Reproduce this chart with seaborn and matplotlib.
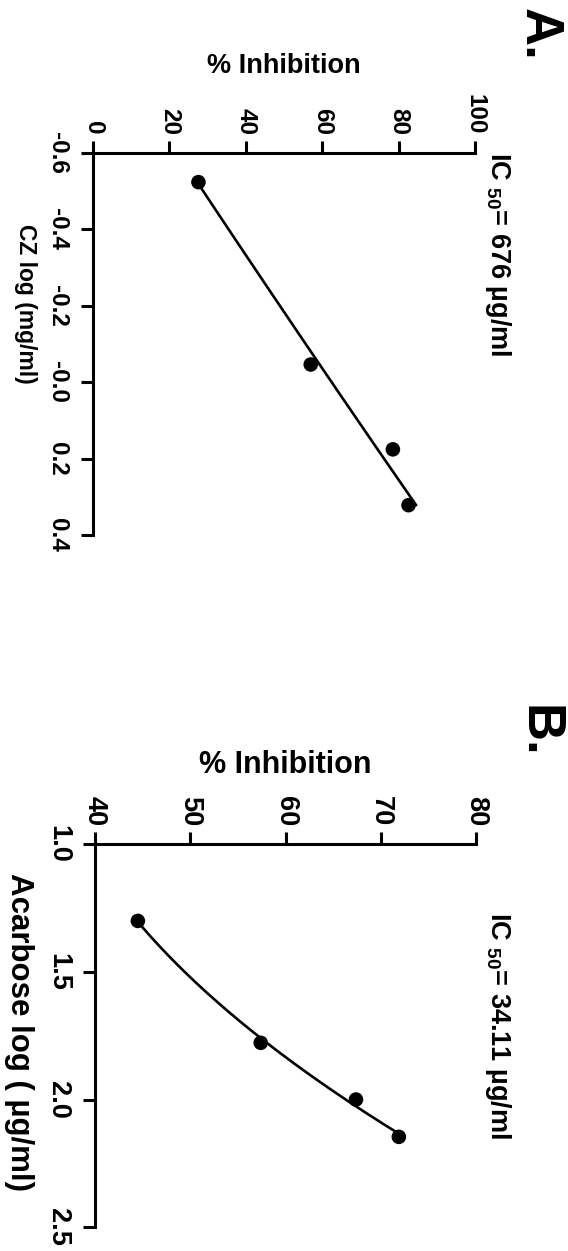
import numpy as np
import pandas as pd
import matplotlib
matplotlib.use("Agg")
import matplotlib.pyplot as plt
import seaborn as sns

# ---- Panel A: CZ extract -------------------------------------------------
cz_log_conc = [-0.523, -0.046, 0.176, 0.322]
cz_inhibition = [27.6, 57.0, 78.5, 82.6]
cz_conc_ticks = [-0.6, -0.4, -0.2, 0.0, 0.2, 0.4]
cz_conc_tick_labels = ["-0.6", "-0.4", "-0.2", "-0.0", "0.2", "0.4"]
cz_inh_ticks = [0, 20, 40, 60, 80, 100]

# ---- Panel B: acarbose ---------------------------------------------------
acarbose_log_conc = [1.301, 1.778, 2.000, 2.146]
acarbose_inhibition = [44.5, 57.4, 67.4, 71.9]
acarbose_conc_ticks = [1.0, 1.5, 2.0, 2.5]
acarbose_conc_tick_labels = ["1.0", "1.5", "2.0", "2.5"]
acarbose_inh_ticks = [40, 50, 60, 70, 80]

panel_letters = ["A.", "B."]
ic50_labels = [r"IC $_{50}$= 676 µg/ml", r"IC $_{50}$= 34.11 µg/ml"]
conc_labels = ["CZ log (mg/ml)", "Acarbose log ( µg/ml)"]
inh_label = "% Inhibition"

sns.set_style("ticks")
plt.rcParams["font.family"] = ["Liberation Sans", "DejaVu Sans"]
plt.rcParams["font.weight"] = "bold"
plt.rcParams["mathtext.fontset"] = "custom"
plt.rcParams["mathtext.rm"] = "Liberation Sans:bold"
plt.rcParams["mathtext.it"] = "Liberation Sans:bold"
plt.rcParams["mathtext.bf"] = "Liberation Sans:bold"
plt.rcParams["mathtext.default"] = "rm"
for key in ("text.color", "axes.labelcolor", "xtick.color", "ytick.color", "axes.edgecolor"):
    plt.rcParams[key] = "black"

W, H = 568, 1251
fig = plt.figure(figsize=(W / 100, H / 100), dpi=100)
fig.patch.set_facecolor("white")


def fx(px):
    return px / W


def fy(py):
    return 1 - py / H


def draw_panel(box, log_conc, inhibition, inh_ticks, conc_ticks, conc_tick_labels,
               tick_size, inh_label_size, inh_label_y, conc_label,
               conc_label_size, conc_label_xy, letter, letter_y, ic50, ic50_y):
    left, top, right, bottom = box
    ax = fig.add_axes([fx(left), fy(bottom), fx(right) - fx(left), fy(top) - fy(bottom)])

    df = pd.DataFrame({"log_conc": log_conc, "inhibition": inhibition})
    # second-order regression of inhibition on log concentration
    coef = np.polyfit(df["log_conc"], df["inhibition"], 2)
    grid = np.linspace(df["log_conc"].min(), df["log_conc"].max(), 200)
    fit = pd.DataFrame({"log_conc": grid, "inhibition": np.polyval(coef, grid)})

    sns.lineplot(data=fit, x="inhibition", y="log_conc", orient="y", estimator=None,
                 color="black", linewidth=1.9, ax=ax)
    sns.scatterplot(data=df, x="inhibition", y="log_conc", color="black", s=110,
                    edgecolor="none", ax=ax, zorder=3)

    ax.set_xlim(inh_ticks[0], inh_ticks[-1])
    ax.set_ylim(conc_ticks[-1], conc_ticks[0])

    ax.xaxis.tick_top()
    ax.set_xticks(inh_ticks)
    ax.set_xticklabels([str(t) for t in inh_ticks], rotation=270,
                       fontsize=tick_size, fontweight="bold")
    ax.set_yticks(conc_ticks)
    ax.set_yticklabels(conc_tick_labels, rotation=270, va="center",
                       fontsize=tick_size, fontweight="bold")

    for side in ("right", "bottom"):
        ax.spines[side].set_visible(False)
    for side in ("top", "left"):
        ax.spines[side].set_linewidth(2.2)
        ax.spines[side].set_color("black")
    ax.tick_params(axis="both", direction="out", length=9, width=2.2, colors="black")
    ax.tick_params(axis="x", pad=4)
    ax.tick_params(axis="y", pad=8)

    ax.set_xlabel(inh_label, fontsize=inh_label_size, fontweight="bold")
    ax.xaxis.set_label_position("top")
    ax.xaxis.label.set_va("baseline")
    ax.xaxis.set_label_coords(fx((left + right) / 2), fy(inh_label_y), transform=fig.transFigure)

    ax.set_ylabel(conc_label, fontsize=conc_label_size, fontweight="bold",
                  rotation=270, rotation_mode="default", ha="right", va="center")
    ax.yaxis.set_label_coords(fx(conc_label_xy[0]), fy(conc_label_xy[1]), transform=fig.transFigure)

    fig.text(fx(525), fy(letter_y), letter, rotation=270, rotation_mode="anchor",
             ha="left", va="baseline", fontsize=38, fontweight="bold")
    fig.text(fx(491), fy(ic50_y), ic50, rotation=270, rotation_mode="anchor",
             ha="left", va="baseline", fontsize=19.5, fontweight="bold")
    return ax


draw_panel((93, 152.7, 475, 535), cz_log_conc, cz_inhibition, cz_inh_ticks,
           cz_conc_ticks, cz_conc_tick_labels, tick_size=17.5,
           inh_label_size=19.5, inh_label_y=73, conc_label=conc_labels[0],
           conc_label_size=16.5, conc_label_xy=(37, 303.5),
           letter=panel_letters[0], letter_y=8, ic50=ic50_labels[0], ic50_y=152)

draw_panel((95, 844, 476, 1227.3), acarbose_log_conc, acarbose_inhibition, acarbose_inh_ticks,
           acarbose_conc_ticks, acarbose_conc_tick_labels, tick_size=19.5,
           inh_label_size=22, inh_label_y=773, conc_label=conc_labels[1],
           conc_label_size=22.5, conc_label_xy=(34, 1032),
           letter=panel_letters[1], letter_y=705, ic50=ic50_labels[1], ic50_y=912)

fig.savefig("out.png", dpi=100, facecolor="white")
